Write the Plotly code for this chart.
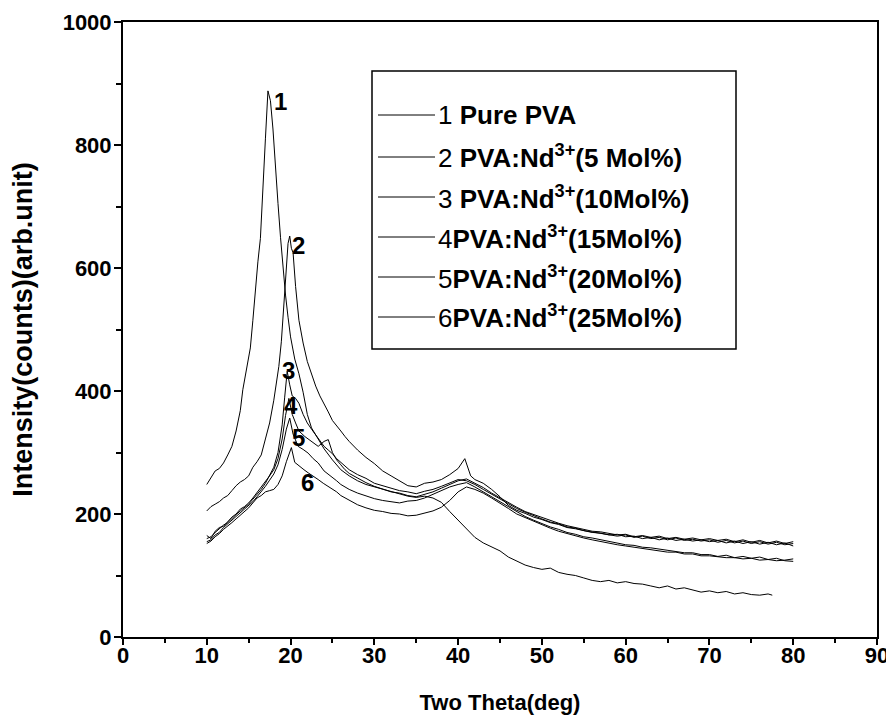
import plotly.graph_objects as go

FONT = "Liberation Sans, Arial, sans-serif"

# ---------------- data ----------------
x_1 = [10, 10.5, 11, 11.5, 12, 12.5, 13, 13.5, 14, 14.3, 14.6, 14.9, 15.2, 15.5, 15.8, 16.1,
       16.4, 16.7, 17.0, 17.3, 17.6, 17.9, 18.2, 18.5, 18.8, 19.1, 19.4, 19.7, 20.0, 20.5, 21,
       21.5, 22, 22.5, 23, 23.5, 24, 25, 26] + list(range(27, 78)) + [77.5]
y_1 = [248, 258, 270, 274, 283, 296, 310, 335, 368, 402, 425, 446, 470, 515, 565, 610, 648, 720,
       810, 888, 872, 826, 760, 705, 650, 600, 556, 520, 488, 452, 428, 398, 362, 340, 328, 318,
       306, 288, 272,
       262, 254, 248, 244, 240, 236, 233, 229, 227, 229, 226, 219, 204, 190, 176, 162, 153, 146,
       140, 130, 124, 117, 113, 110, 112, 105, 102, 100, 96, 92, 90, 92, 88, 90, 87, 86, 83, 80,
       83, 78, 80, 76, 73, 75, 72, 74, 70, 72, 69, 68, 70, 68]

x_2 = [10, 10.5, 11, 11.5, 12, 12.5, 13, 13.5, 14, 14.5, 15, 15.5, 16, 16.5, 17, 17.5, 18, 18.3,
       18.6, 18.9, 19.2, 19.5, 19.7, 19.9, 20.1, 20.3, 20.6, 21, 21.5, 22, 22.5, 23, 23.5, 24,
       24.5, 25, 25.5, 26, 26.5] + list(range(27, 41)) + [40.8, 41.5] + list(range(42, 81))
y_2 = [205, 212, 216, 220, 226, 230, 238, 246, 252, 256, 262, 276, 285, 296, 322, 348, 385, 410,
       440, 480, 540, 600, 640, 652, 632, 625, 570, 515, 478, 448, 428, 408, 392, 380, 366, 352,
       344, 335, 326,
       318, 304, 292, 282, 270, 262, 254, 246, 244, 250, 252, 256, 264, 274, 290, 262,
       256, 250, 240, 228, 214, 206, 201, 195, 191, 186, 183, 178, 176, 173, 170, 169, 166, 167,
       163, 164, 160, 162, 158, 161, 157, 159, 156, 158, 155, 157, 153, 156, 152, 155, 151, 154,
       150, 153, 148]

x_3 = [10, 10.5, 11, 11.5, 12, 12.5, 13, 13.5, 14, 14.5, 15, 15.5, 16, 16.5, 17, 17.5, 18, 18.5,
       19, 19.3, 19.6, 19.9, 20.2, 20.6, 21, 21.5, 22, 22.5, 23, 23.5, 24, 24.5, 25, 25.5, 26,
       26.5] + list(range(27, 81))
y_3 = [160, 163, 170, 176, 182, 186, 193, 199, 205, 210, 216, 224, 232, 240, 250, 262, 276, 300,
       345, 390, 432, 410, 392, 388, 380, 362, 348, 338, 328, 320, 310, 304, 298, 290, 284, 278,
       272, 264, 258, 250, 246, 242, 238, 236, 233, 237, 240, 245, 250, 256, 254, 248, 240, 232,
       224, 216, 209, 203, 197, 192, 187, 184, 179, 177, 173, 171, 168, 167, 164, 166, 162, 164,
       160, 162, 158, 161, 157, 159, 156, 158, 154, 157, 153, 156, 152, 155, 151, 154, 150, 152]

x_4 = [10, 10.5, 11, 11.5, 12, 12.5, 13, 13.5, 14, 14.5, 15, 15.5, 16, 16.5, 17, 17.5, 18, 18.5,
       19, 19.4, 19.8, 20.2, 20.6, 21, 21.7, 22.5, 23.3, 24, 24.5, 25, 25.5, 26, 26.5] + list(range(27, 81))
y_4 = [165, 160, 172, 178, 180, 188, 195, 200, 208, 212, 218, 226, 235, 242, 252, 262, 272, 290,
       322, 360, 388, 362, 348, 335, 326, 318, 310, 318, 321, 300, 288, 280, 272,
       266, 258, 251, 245, 241, 236, 234, 230, 228, 232, 236, 242, 248, 254, 257, 250, 243, 234,
       226, 218, 211, 204, 199, 194, 189, 185, 181, 178, 175, 172, 171, 168, 166, 167, 163, 165,
       162, 164, 160, 162, 159, 161, 158, 160, 157, 159, 155, 158, 154, 157, 153, 156, 152, 155]

x_5 = [10, 10.5, 11, 11.5, 12, 12.5, 13, 13.5, 14, 14.5, 15, 15.5, 16, 16.5, 17, 17.5, 18, 18.5,
       19, 19.5, 19.9, 20.3, 20.9, 21.5, 22.1, 22.7, 23.3, 24, 24.9, 25.5, 26, 26.5] + list(range(27, 81))
y_5 = [155, 158, 166, 170, 178, 184, 190, 196, 202, 208, 214, 220, 228, 236, 245, 255, 265, 280,
       305, 338, 356, 330, 310, 305, 299, 290, 283, 270, 261, 254, 248, 244,
       240, 234, 229, 225, 222, 220, 218, 221, 222, 226, 232, 238, 244, 248, 251, 244, 236, 228,
       220, 211, 203, 196, 190, 184, 179, 175, 170, 167, 163, 161, 158, 155, 153, 150, 149, 146,
       145, 143, 141, 140, 137, 137, 134, 134, 131, 133, 129, 131, 128, 130, 126, 128, 124, 123]

x_6 = [10, 10.5, 11, 11.5, 12, 12.5, 13, 13.5, 14, 14.5, 15, 15.5, 16, 16.5, 17, 17.5, 18, 18.5,
       19, 19.5, 20.1, 20.5, 21.1, 21.6, 22.1, 22.7, 23.3, 23.9, 24.5, 25, 25.5, 26, 26.5] + list(range(27, 81))
y_6 = [152, 156, 163, 168, 175, 180, 186, 192, 198, 204, 210, 218, 226, 230, 236, 238, 240, 248,
       262, 285, 308, 284, 277, 272, 267, 262, 256, 250, 245, 240, 236, 230, 226,
       222, 215, 210, 206, 204, 201, 200, 197, 198, 201, 205, 211, 222, 236, 244, 240, 234, 226,
       218, 209, 200, 194, 188, 182, 177, 172, 168, 164, 161, 158, 155, 153, 150, 148, 146, 145,
       142, 141, 138, 138, 135, 135, 132, 132, 130, 129, 129, 127, 128, 125, 126, 124, 125, 127]

series_x = [x_1, x_2, x_3, x_4, x_5, x_6]
series_y = [y_1, y_2, y_3, y_4, y_5, y_6]
series_names = [
    "1 <b>Pure PVA</b>",
    "2 <b>PVA:Nd<sup>3+</sup>(5 Mol%)</b>",
    "3 <b>PVA:Nd<sup>3+</sup>(10Mol%)</b>",
    "4<b>PVA:Nd<sup>3+</sup>(15Mol%)</b>",
    "5<b>PVA:Nd<sup>3+</sup>(20Mol%)</b>",
    "6<b>PVA:Nd<sup>3+</sup>(25Mol%)</b>",
]

# curve number labels (data coordinates of the text)
label_text = ["1", "2", "3", "4", "5", "6"]
label_x = [18.8, 21.0, 19.8, 20.0, 20.9, 22.0]
label_y = [870, 637, 434, 377, 324, 252]

x_ticks = [0, 10, 20, 30, 40, 50, 60, 70, 80, 90]
y_ticks = [0, 200, 400, 600, 800, 1000]

# ---------------- figure ----------------
W, H = 894, 728
OFF = 8  # page body margin around the figure
M_L, M_R, M_T, M_B = 115, 25, 14, 99
PW, PH = W - M_L - M_R, H - M_T - M_B

def px_x(p):
    return (p - OFF - M_L) / PW

def px_y(p):
    return (H - M_B - (p - OFF)) / PH

fig = go.Figure()
for xs, ys, nm in zip(series_x, series_y, series_names):
    fig.add_trace(go.Scatter(x=xs, y=ys, mode="lines", name=nm, showlegend=False,
                             line=dict(color="black", width=1)))

for t, lx, ly in zip(label_text, label_x, label_y):
    fig.add_annotation(x=lx, y=ly, text="<b>" + t + "</b>", showarrow=False,
                       font=dict(family=FONT, size=24, color="black"))

# legend box (drawn manually to match the original layout)
shapes = [dict(type="rect", xref="paper", yref="paper",
               x0=px_x(372), x1=px_x(736), y0=px_y(349), y1=px_y(71),
               line=dict(color="black", width=1.5), fillcolor="rgba(0,0,0,0)")]
row_y = [115, 157, 197, 237, 277, 317]
for ry, nm in zip(row_y, series_names):
    shapes.append(dict(type="line", xref="paper", yref="paper",
                       x0=px_x(378), x1=px_x(435), y0=px_y(ry), y1=px_y(ry),
                       line=dict(color="black", width=1)))
    fig.add_annotation(xref="paper", yref="paper", x=px_x(436), y=px_y(ry),
                       xanchor="left", yanchor="middle", text=nm, showarrow=False,
                       font=dict(family=FONT, size=26, color="black"))

axis_common = dict(showline=True, linecolor="black", linewidth=2, mirror=True,
                   ticks="outside", tickcolor="black", tickwidth=2, showgrid=False,
                   zeroline=False, automargin=False,
                   tickfont=dict(family=FONT, size=22, color="black"))

fig.update_xaxes(range=[0, 90], tickvals=x_ticks,
                 ticktext=["<b>%d</b>" % v for v in x_ticks], ticklen=6, ticklabelstandoff=-8,
                 minor=dict(dtick=5, ticks="outside", ticklen=4, tickcolor="black", tickwidth=2),
                 title=dict(text="<b>Two Theta(deg)</b>", standoff=27,
                            font=dict(family=FONT, size=22, color="black")),
                 **axis_common)
fig.update_yaxes(range=[0, 1000], tickvals=y_ticks,
                 ticktext=["<b>%d</b>" % v for v in y_ticks], ticklen=7, ticklabelstandoff=-2,
                 minor=dict(dtick=100, ticks="outside", ticklen=5, tickcolor="black", tickwidth=2),
                 title=dict(text="<b>Intensity(counts)(arb.unit)</b>", standoff=33,
                            font=dict(family=FONT, size=27, color="black")),
                 **axis_common)

fig.update_layout(width=W, height=H, margin=dict(l=M_L, r=M_R, t=M_T, b=M_B),
                  plot_bgcolor="white", paper_bgcolor="white", shapes=shapes,
                  font=dict(family=FONT, color="black"))

fig.write_html("out.html")
